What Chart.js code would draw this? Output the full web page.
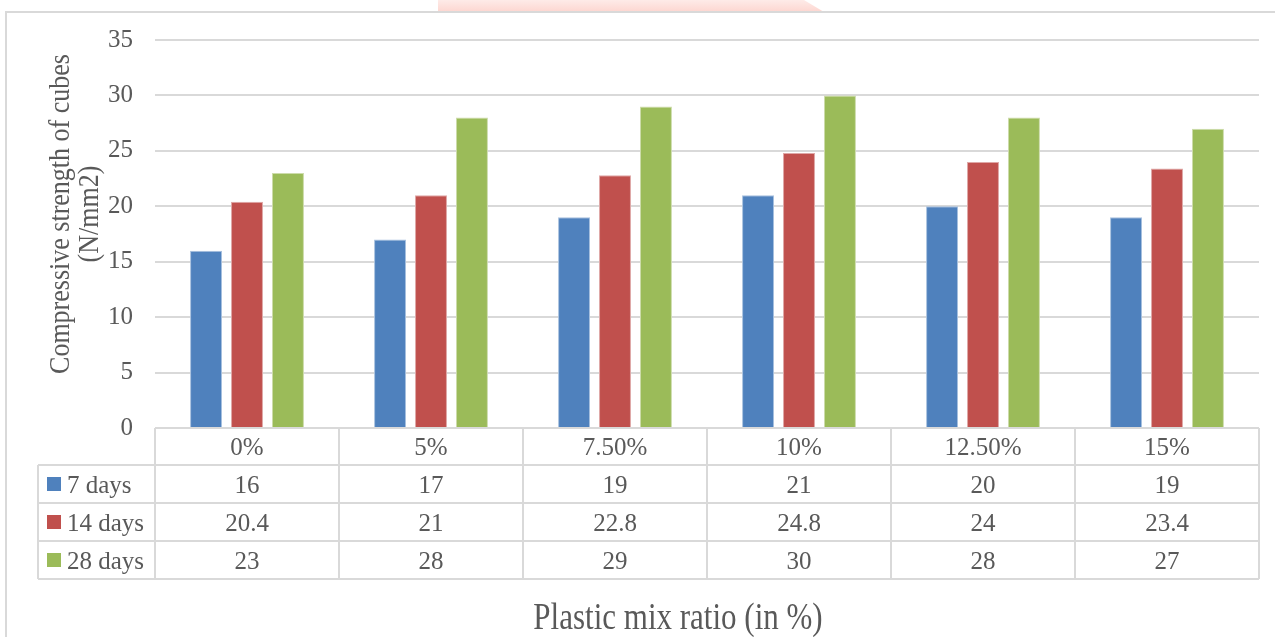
<!DOCTYPE html>
<html>
<head>
<meta charset="utf-8">
<title>Compressive strength of cubes</title>
<script src="https://cdn.jsdelivr.net/npm/chart.js@4.4.1/dist/chart.umd.min.js"></script>
<style>
  html, body { margin: 0; padding: 0; background: #ffffff; }
  canvas { display: block; }
</style>
</head>
<body>
<canvas id="chart" width="1275" height="637"></canvas>
<script>
// Plastic mix ratios and cube strengths (N/mm2) at each curing age
const categories = ['0%', '5%', '7.50%', '10%', '12.50%', '15%'];
const days7 = [16, 17, 19, 21, 20, 19];
const days14 = [20.4, 21, 22.8, 24.8, 24, 23.4];
const days28 = [23, 28, 29, 30, 28, 27];
const seriesNames = ['7 days', '14 days', '28 days'];
const yTicks = [0, 5, 10, 15, 20, 25, 30, 35];

const SERIF = '"Liberation Serif", "Times New Roman", serif';
const TEXT = '#595959';
const RULE = '#d9d9d9';
const colors = ['#4f81bd', '#c0504d', '#9bbb59'];
const edges = ['#a7c0de', '#dfa7a6', '#cddcab'];

// Frame and faint header band behind the chart
const framePlugin = {
  id: 'frame',
  beforeDraw(chart) {
    const ctx = chart.ctx;
    ctx.save();
    ctx.fillStyle = '#ffffff';
    ctx.fillRect(0, 0, chart.width, chart.height);
    const band = ctx.createLinearGradient(0, 0, 0, 12);
    band.addColorStop(0, '#feebe8');
    band.addColorStop(1, '#fdd6d0');
    ctx.fillStyle = band;
    ctx.beginPath();
    ctx.moveTo(438, 0);
    ctx.lineTo(804, 0);
    ctx.lineTo(824, 12);
    ctx.lineTo(438, 12);
    ctx.closePath();
    ctx.fill();
    ctx.strokeStyle = RULE;
    ctx.lineWidth = 2;
    ctx.beginPath();
    ctx.moveTo(6, chart.height);
    ctx.lineTo(6, 12);
    ctx.lineTo(chart.width, 12);
    ctx.stroke();
    ctx.restore();
  }
};

// Data table under the plot, plus the axis titles
const tablePlugin = {
  id: 'dataTable',
  afterDraw(chart) {
    const ctx = chart.ctx;
    const x = chart.scales.x;
    const area = chart.chartArea;
    const step = x.getPixelForValue(1) - x.getPixelForValue(0);
    const left = area.left;
    const right = area.right;
    const keyLeft = 38;
    const headTop = area.bottom;
    const headH = 37;
    const rowH = 38;
    const rows = [days7, days14, days28];
    const bottom = headTop + headH + rowH * rows.length;

    ctx.save();
    ctx.strokeStyle = RULE;
    ctx.lineWidth = 2;
    ctx.beginPath();
    ctx.moveTo(left, headTop);
    ctx.lineTo(right, headTop);
    for (let r = 0; r <= rows.length; r++) {
      const y = headTop + headH + r * rowH;
      ctx.moveTo(keyLeft, y);
      ctx.lineTo(right, y);
    }
    ctx.moveTo(keyLeft, headTop + headH);
    ctx.lineTo(keyLeft, bottom);
    for (let i = 0; i <= categories.length; i++) {
      const xb = x.getPixelForValue(i) - step / 2;
      ctx.moveTo(xb, headTop);
      ctx.lineTo(xb, bottom);
    }
    ctx.stroke();

    ctx.fillStyle = TEXT;
    ctx.font = '25px ' + SERIF;
    ctx.textAlign = 'center';
    ctx.textBaseline = 'middle';
    categories.forEach((c, i) => {
      ctx.fillText(c, x.getPixelForValue(i), headTop + headH / 2 + 2);
    });
    rows.forEach((vals, r) => {
      const cy = headTop + headH + r * rowH + rowH / 2 + 2;
      ctx.textAlign = 'center';
      ctx.fillStyle = TEXT;
      vals.forEach((v, i) => {
        ctx.fillText(String(v), x.getPixelForValue(i), cy);
      });
      ctx.fillStyle = colors[r];
      ctx.fillRect(keyLeft + 9, cy - 9, 14, 14);
      ctx.fillStyle = TEXT;
      ctx.textAlign = 'left';
      ctx.fillText(seriesNames[r], keyLeft + 29, cy);
    });

    // x axis title (glyphs drawn slightly tall)
    ctx.textAlign = 'center';
    ctx.font = '31px ' + SERIF;
    ctx.save();
    ctx.translate((left + right) / 2 - 29, bottom + 40);
    ctx.scale(1, 1.2);
    ctx.fillText('Plastic mix ratio (in %)', 0, 0);
    ctx.restore();

    // y axis title, two lines, rotated
    ctx.font = '26px ' + SERIF;
    ctx.translate(61, (area.top + area.bottom) / 2 - 20);
    ctx.rotate(-Math.PI / 2);
    ctx.scale(1, 1.15);
    ctx.fillText('Compressive strength of cubes', 0, 0);
    ctx.fillText('(N/mm2)', 0, 25);
    ctx.restore();
  }
};

new Chart(document.getElementById('chart'), {
  type: 'bar',
  data: {
    labels: categories,
    datasets: [days7, days14, days28].map((d, i) => ({
      label: seriesNames[i],
      data: d,
      backgroundColor: colors[i],
      borderColor: edges[i],
      borderWidth: 1,
      categoryPercentage: 0.668,
      barPercentage: 0.78
    }))
  },
  options: {
    responsive: false,
    animation: false,
    devicePixelRatio: 1,
    layout: { padding: { top: 40, right: 16, left: 0, bottom: 0 } },
    plugins: {
      legend: { display: false },
      tooltip: { enabled: false }
    },
    scales: {
      x: {
        grid: { display: false },
        border: { display: false },
        ticks: { display: false },
        afterFit(scale) { scale.height = 209; }
      },
      y: {
        min: 0,
        max: 35,
        afterBuildTicks(scale) { scale.ticks = yTicks.map(v => ({ value: v })); },
        grid: {
          color: ctx => (ctx.tick && ctx.tick.value === 0 ? 'rgba(0,0,0,0)' : RULE),
          lineWidth: 2,
          drawTicks: false
        },
        border: { display: false },
        ticks: {
          padding: 22,
          color: TEXT,
          font: { family: SERIF, size: 25 }
        },
        afterFit(scale) { scale.width = 155; }
      }
    }
  },
  plugins: [framePlugin, tablePlugin]
});
</script>
</body>
</html>
